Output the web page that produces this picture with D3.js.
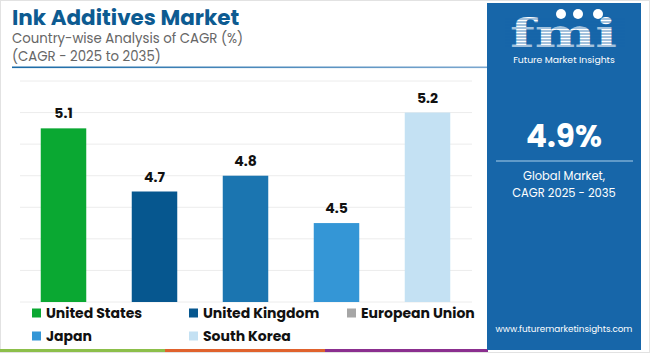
<!DOCTYPE html>
<html>
<head>
<meta charset="utf-8">
<script src="https://cdn.jsdelivr.net/npm/d3@7"></script>
<style>
  body { margin: 0; background: #fff; }
  svg { display: block; font-family: Poppins, Inter, 'Open Sans', sans-serif; }
</style>
</head>
<body>
<svg id="chart"></svg>
<script>
// Data
var countries = ['United States', 'United Kingdom', 'European Union', 'Japan', 'South Korea']
var cagr = [5.1, 4.7, 4.8, 4.5, 5.2]
var barColors = ['#0aa832', '#06578f', '#1b75b0', '#3496d6', '#c4e1f3']
var legendColors = ['#0aa832', '#06578f', '#a6a6a6', '#3496d6', '#c4e1f3']
var gridTicks = [4.0, 4.2, 4.4, 4.6, 4.8, 5.0, 5.2, 5.4]
var globalCagr = '4.9%'

;(function () {
  var WIDTH = 650
  var HEIGHT = 353

  var svg = d3.select('#chart')
    .attr('width', WIDTH)
    .attr('height', HEIGHT)

  // outer frame
  svg.append('rect')
    .attr('x', 0.5).attr('y', 0.5)
    .attr('width', WIDTH - 1).attr('height', HEIGHT - 1)
    .attr('fill', '#fff')
    .attr('stroke', '#e2e2e2')

  // Titles
  svg.append('text')
    .attr('x', 12).attr('y', 25)
    .attr('font-size', 21.5).attr('font-weight', 700)
    .attr('fill', '#0d5b91')
    .text('Ink Additives Market')

  svg.append('text')
    .attr('x', 12).attr('y', 43)
    .attr('font-size', 13.3)
    .attr('fill', '#666')
    .text('Country-wise Analysis of CAGR (%)')

  svg.append('text')
    .attr('x', 12).attr('y', 61)
    .attr('font-size', 13.3)
    .attr('fill', '#666')
    .text('(CAGR - 2025 to 2035)')

  var grad = svg.append('defs').append('linearGradient')
    .attr('id', 'titleLine')
  grad.append('stop').attr('offset', '0%').attr('stop-color', '#1a6aa6')
  grad.append('stop').attr('offset', '100%').attr('stop-color', '#7ba7cf')

  svg.append('rect')
    .attr('x', 12).attr('y', 66.5)
    .attr('width', 475).attr('height', 1.6)
    .attr('fill', 'url(#titleLine)')

  // Scales
  var x = d3.scaleBand()
    .domain(countries)
    .range([18, 473])
    .paddingInner(0.5)
    .paddingOuter(0.25)

  var y = d3.scaleLinear()
    .domain([4.0, 5.4])
    .range([302, 81])

  // Grid
  svg.append('g')
    .selectAll('line')
    .data(gridTicks)
    .enter().append('line')
    .attr('x1', 20).attr('x2', 472)
    .attr('y1', function (d) { return y(d) })
    .attr('y2', function (d) { return y(d) })
    .attr('stroke', '#ececec')
    .attr('stroke-width', 1)

  // Bars
  svg.append('g')
    .selectAll('rect')
    .data(countries)
    .enter().append('rect')
    .attr('x', function (d) { return x(d) })
    .attr('y', function (d, i) { return y(cagr[i]) })
    .attr('width', x.bandwidth())
    .attr('height', function (d, i) { return y(4.0) - y(cagr[i]) })
    .attr('fill', function (d, i) { return barColors[i] })

  svg.append('g')
    .selectAll('text')
    .data(countries)
    .enter().append('text')
    .attr('x', function (d) { return x(d) + x.bandwidth() / 2 })
    .attr('y', function (d, i) { return y(cagr[i]) - 10 })
    .attr('text-anchor', 'middle')
    .attr('font-size', 14).attr('font-weight', 700)
    .attr('fill', '#111')
    .text(function (d, i) { return cagr[i].toFixed(1) })

  // Legend
  var legendPos = [[32, 313], [189, 313], [347, 313], [32, 336], [189, 336]]
  var legend = svg.append('g')
    .selectAll('g')
    .data(countries)
    .enter().append('g')
    .attr('transform', function (d, i) { return 'translate(' + legendPos[i][0] + ',' + legendPos[i][1] + ')' })

  legend.append('rect')
    .attr('x', 0).attr('y', -4.5)
    .attr('width', 9).attr('height', 9)
    .attr('fill', function (d, i) { return legendColors[i] })

  legend.append('text')
    .attr('x', 14).attr('y', 5)
    .attr('font-size', 14).attr('font-weight', 700)
    .attr('fill', '#111')
    .text(function (d) { return d })

  // Bottom stripe
  var stripe = [[0, 165, '#8cbf4a'], [165, 325, '#e0622d'], [325, 488, '#8b2f8f']]
  svg.append('g')
    .selectAll('rect')
    .data(stripe)
    .enter().append('rect')
    .attr('x', function (d) { return d[0] })
    .attr('y', 349)
    .attr('width', function (d) { return d[1] - d[0] })
    .attr('height', 3)
    .attr('fill', function (d) { return d[2] })

  // Side panel
  var panel = svg.append('g')
  panel.append('rect')
    .attr('x', 487).attr('y', 3)
    .attr('width', 154).attr('height', 347)
    .attr('fill', '#1766a9')

  var cx = 564

  // logo
  var logo = panel.append('g')
  logo.append('text')
    .attr('x', 510).attr('y', 47)
    .attr('font-family', "'DejaVu Serif', serif")
    .attr('font-size', 40).attr('font-weight', 700)
    .attr('textLength', 107)
    .attr('lengthAdjust', 'spacingAndGlyphs')
    .attr('fill', '#fff')
    .text('fmi')
  logo.append('g')
    .selectAll('line')
    .data(d3.range(19, 48, 3))
    .enter().append('line')
    .attr('x1', 505).attr('x2', 625)
    .attr('y1', function (d) { return d }).attr('y2', function (d) { return d })
    .attr('stroke', '#1766a9').attr('stroke-width', 0.8)
  logo.append('g')
    .selectAll('circle')
    .data([561, 578, 598])
    .enter().append('circle')
    .attr('cx', function (d) { return d }).attr('cy', 14)
    .attr('r', 5)
    .attr('fill', '#fff')
  logo.append('text')
    .attr('x', cx).attr('y', 63)
    .attr('text-anchor', 'middle')
    .attr('font-size', 9.3)
    .attr('fill', '#fff')
    .text('Future Market Insights')

  panel.append('text')
    .attr('x', cx).attr('y', 147)
    .attr('text-anchor', 'middle')
    .attr('font-size', 31).attr('font-weight', 700)
    .attr('fill', '#fff')
    .text(globalCagr)

  panel.append('line')
    .attr('x1', 496).attr('x2', 633)
    .attr('y1', 161).attr('y2', 161)
    .attr('stroke', '#a9cdea').attr('stroke-width', 1.2)

  panel.append('text')
    .attr('x', cx).attr('y', 180)
    .attr('text-anchor', 'middle')
    .attr('font-size', 11.5)
    .attr('fill', '#fff')
    .text('Global Market,')

  panel.append('text')
    .attr('x', cx).attr('y', 197)
    .attr('text-anchor', 'middle')
    .attr('font-size', 11.5)
    .attr('fill', '#fff')
    .text('CAGR 2025 - 2035')

  panel.append('text')
    .attr('x', cx).attr('y', 332)
    .attr('text-anchor', 'middle')
    .attr('font-size', 8.8)
    .attr('fill', '#fff')
    .text('www.futuremarketinsights.com')
})()
</script>
</body>
</html>
